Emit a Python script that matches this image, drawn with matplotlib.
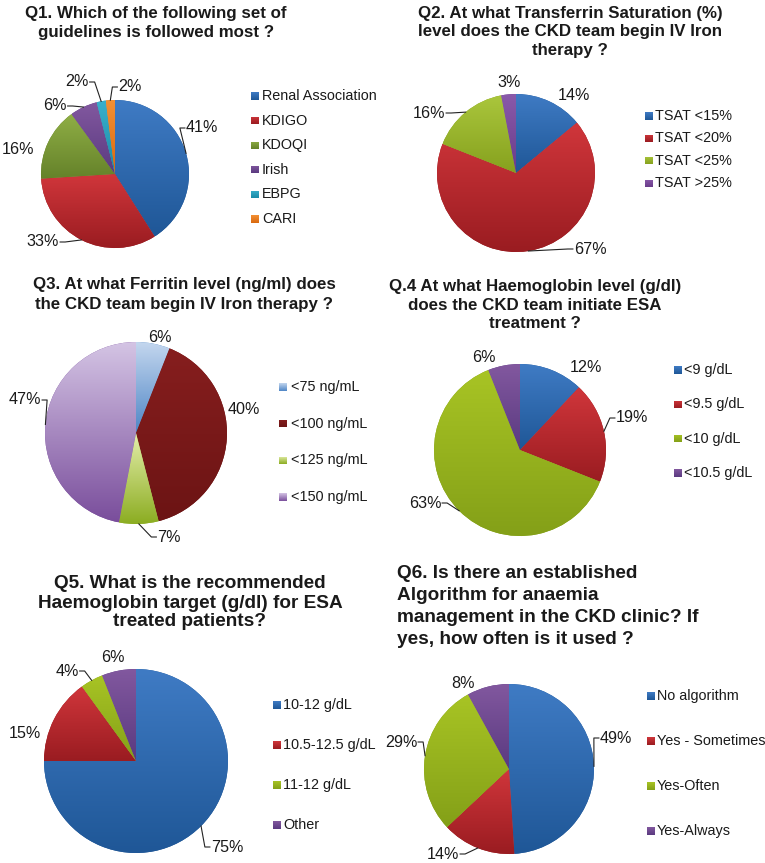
import numpy as np
import matplotlib
matplotlib.use('Agg')
import matplotlib.pyplot as plt
from matplotlib.colors import LinearSegmentedColormap
from matplotlib.patches import Rectangle

plt.rcParams['font.family'] = ['Liberation Sans', 'DejaVu Sans']

W, H = 765, 863

# survey answers (percent)
q1_labels = ['Renal Association', 'KDIGO', 'KDOQI', 'Irish', 'EBPG', 'CARI']
q1_values = [41, 33, 16, 6, 2, 2]
q2_labels = ['TSAT <15%', 'TSAT <20%', 'TSAT <25%', 'TSAT >25%']
q2_values = [14, 67, 16, 3]
q3_labels = ['<75 ng/mL', '<100 ng/mL', '<125 ng/mL', '<150 ng/mL']
q3_values = [6, 40, 7, 47]
q4_labels = ['<9 g/dL', '<9.5 g/dL', '<10 g/dL', '<10.5 g/dL']
q4_values = [12, 19, 63, 6]
q5_labels = ['10-12 g/dL', '10.5-12.5 g/dL', '11-12 g/dL', 'Other']
q5_values = [75, 15, 4, 6]
q6_labels = ['No algorithm', 'Yes - Sometimes', 'Yes-Often', 'Yes-Always']
q6_values = [49, 14, 29, 8]

q1_title = ['Q1. Which of the following set of', 'guidelines is followed most ?']
q2_title = ['Q2. At what Transferrin Saturation (%)', 'level does the CKD team begin IV Iron', 'therapy ?']
q3_title = ['Q3. At what Ferritin level (ng/ml) does', 'the CKD team begin IV Iron therapy ?']
q4_title = ['Q.4 At what Haemoglobin level (g/dl)', 'does the CKD team initiate ESA', 'treatment ?']
q5_title = ['Q5. What is the recommended', 'Haemoglobin target (g/dl) for ESA', 'treated patients?']
q6_title = ['Q6. Is there an established', 'Algorithm for anaemia', 'management in the CKD clinic? If', 'yes, how often is it used ?']

# gradient colours (top, bottom)
BLUE = ('#3f7bc4', '#1f5797')
RED = ('#d0363b', '#9a1c21')
PURPLE = ('#82589f', '#5a3a80')
c_q1 = [BLUE, RED, ('#8fae45', '#65822a'), PURPLE, ('#3ab0cc', '#1a8aa6'), ('#f39033', '#d9690f')]
c_q2 = [BLUE, RED, ('#aac63c', '#86a11e'), ('#8a5aaa', '#6a3c8a')]
c_q3 = [('#c3d6ee', '#4f86c6'), ('#861e1e', '#6c1414'), ('#e4eeaa', '#8cad22'), ('#d4c4e4', '#7a4e9c')]
c_q4 = [BLUE, RED, ('#a8c424', '#84a018'), PURPLE]

panels = [
    dict(title=q1_title, tx=156, ty=[14, 33], ha='center', tfs=12.2,
         labels=q1_labels, values=q1_values, colors=c_q1, c=(115, 174), r=74,
         lx=251, tgap=11, ly0=96, dy=24.6,
         pos=[(202, 128), (43, 242), (18, 150), (55, 106), (77, 82), (130, 87)],
         lead=[True, True, False, True, True, True]),
    dict(title=q2_title, tx=570, ty=[14, 32, 51], ha='center', tfs=12.2,
         labels=q2_labels, values=q2_values, colors=c_q2, c=(516, 173), r=79,
         lx=645, tgap=10, ly0=116, dy=22.4,
         pos=[(574, 96), (590, 249), (429, 113), (509, 83)],
         lead=[False, True, True, False]),
    dict(title=q3_title, tx=184, ty=[285, 304], ha='center', tfs=12.2,
         labels=q3_labels, values=q3_values, colors=c_q3, c=(136, 433), r=91,
         lx=279, tgap=12, ly0=387, dy=36.7,
         pos=[(160, 338), (244, 409), (169, 537), (25, 400)],
         lead=[False, False, True, True]),
    dict(title=q4_title, tx=535, ty=[286, 306, 324], ha='center', tfs=12.2,
         labels=q4_labels, values=q4_values, colors=c_q4, c=(520, 450), r=86,
         lx=674, tgap=10, ly0=370, dy=34.3,
         pos=[(586, 368), (632, 418), (425, 503), (484, 358)],
         lead=[False, True, True, False]),
    dict(title=q5_title, tx=190, ty=[584, 603, 621], ha='center', tfs=13.7,
         labels=q5_labels, values=q5_values, colors=c_q4, c=(136, 761), r=92,
         lx=273, tgap=10, ly0=705, dy=40,
         pos=[(227, 847), (25, 733), (67, 671), (113, 657)],
         lead=[True, False, True, False]),
    dict(title=q6_title, tx=397, ty=[574, 596, 618, 639], ha='left', tfs=13.7,
         labels=q6_labels, values=q6_values, colors=c_q4, c=(509, 769), r=85,
         lx=647, tgap=10, ly0=696, dy=45,
         pos=[(616, 738), (443, 854), (401, 742), (463, 683)],
         lead=[True, True, True, False]),
]

FS = 10.4    # legend text
LFS = 11.6   # percent labels


def shade(ax, patch, top, bottom, z):
    bb = patch.get_path().get_extents(patch.get_patch_transform())
    cmap = LinearSegmentedColormap.from_list('g', [top, bottom])
    im = ax.imshow(np.linspace(0, 1, 100).reshape(-1, 1), cmap=cmap,
                   extent=(bb.x0, bb.x1, bb.y0, bb.y1), origin='upper',
                   aspect='auto', interpolation='bilinear', zorder=z)
    im.set_clip_path(patch)


fig = plt.figure(figsize=(W / 100, H / 100), dpi=100)
ax = fig.add_axes([0, 0, 1, 1])

for p in panels:
    for i, line in enumerate(p['title']):
        ax.text(p['tx'], H - p['ty'][i], line, ha=p['ha'], va='center',
                fontsize=p['tfs'], fontweight='bold', color='#1a1a1a')

    cx, cy = p['c'][0], H - p['c'][1]
    r = p['r']
    wedges, _ = ax.pie(p['values'], center=(cx, cy), radius=r, startangle=90,
                       counterclock=False, colors=[c[1] for c in p['colors']],
                       wedgeprops=dict(linewidth=0))
    for w, col in zip(wedges, p['colors']):
        shade(ax, w, col[0], col[1], 2)

    total = float(sum(p['values']))
    cum = 0.0
    for v, (lx, ly), lead in zip(p['values'], p['pos'], p['lead']):
        txt = '%d%%' % v
        ax.text(lx, H - ly, txt, ha='center', va='center', fontsize=LFS, color='#1a1a1a', zorder=5)
        ang = np.deg2rad(90 - 360 * (cum + v / 2) / total)
        cum += v
        if lead:
            ex, ey = cx + r * np.cos(ang), cy + r * np.sin(ang)
            hw = (0.556 * (len(txt) - 1) + 0.889) * LFS * 100 / 72 / 2 + 1
            if lx > ex:
                sx, kx = lx - hw, lx - hw - 5
            else:
                sx, kx = lx + hw, lx + hw + 5
            ax.plot([ex, kx, sx], [ey, H - ly, H - ly], color='#222222', lw=0.8, zorder=4)

    for i, (lab, col) in enumerate(zip(p['labels'], p['colors'])):
        y = H - (p['ly0'] + i * p['dy'])
        sq = Rectangle((p['lx'], y - 3.7), 7.4, 7.4, facecolor=col[1], linewidth=0)
        ax.add_patch(sq)
        shade(ax, sq, col[0], col[1], 3)
        ax.text(p['lx'] + p['tgap'], y, lab, ha='left', va='center', fontsize=FS, color='#1a1a1a')

ax.set_xlim(0, W)
ax.set_ylim(0, H)
ax.set_aspect('auto')
ax.axis('off')
fig.savefig('out.png', dpi=100, facecolor='white')
